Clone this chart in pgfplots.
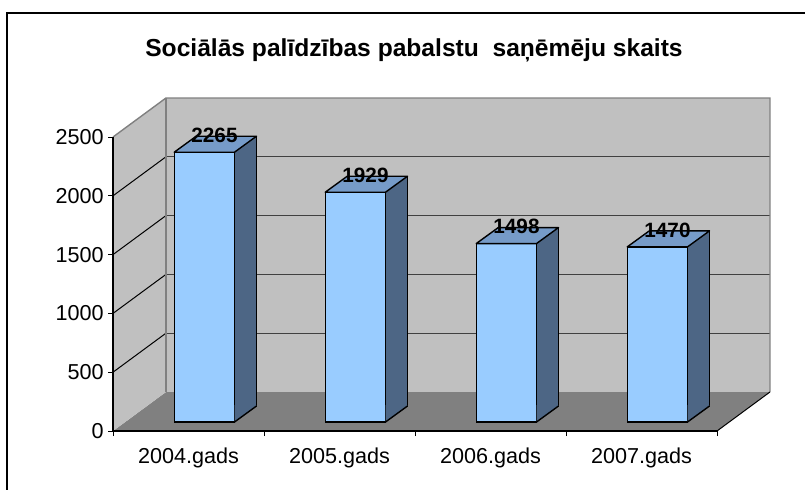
\documentclass[border=0pt]{standalone}
\usepackage{fontspec}
\setmainfont{Liberation Sans}
\usepackage{pgfplots}
\pgfplotsset{compat=1.18}
\usepackage{pgfplotstable}

\definecolor{barfront}{RGB}{153,204,255}
\definecolor{bartop}{RGB}{118,155,200}
\definecolor{barside}{RGB}{77,102,133}
\definecolor{wall}{RGB}{192,192,192}
\definecolor{floorc}{RGB}{128,128,128}
\definecolor{edgec}{RGB}{128,128,128}
\definecolor{gridc}{RGB}{64,64,64}

% top face of a 3-D column (fixed shape, placed at the front top centre)
\pgfdeclareplotmark{topface}{%
  \pgfpathmoveto{\pgfqpoint{-7.125pt}{0pt}}%
  \pgfpathlineto{\pgfqpoint{23pt}{0pt}}%
  \pgfpathlineto{\pgfqpoint{34pt}{8pt}}%
  \pgfpathlineto{\pgfqpoint{3.875pt}{8pt}}%
  \pgfpathclose
  \pgfusepathqfillstroke}
% lower triangle of the side face (placed at the column base)
\pgfdeclareplotmark{sidefoot}{%
  \pgfsetfillcolor{barside}%
  \pgfpathmoveto{\pgfqpoint{23pt}{0pt}}%
  \pgfpathlineto{\pgfqpoint{34pt}{8pt}}%
  \pgfpathlineto{\pgfqpoint{33.6pt}{8.45pt}}%
  \pgfpathlineto{\pgfqpoint{23pt}{8.45pt}}%
  \pgfpathclose
  \pgfusepathqfill
  \pgfpathmoveto{\pgfqpoint{23pt}{0pt}}%
  \pgfpathlineto{\pgfqpoint{34pt}{8pt}}%
  \pgfusepathqstroke}

\pgfplotstableread{
x v
0.5 2265
1.5 1929
2.5 1498
3.5 1470
}\datatable

\pgfplotstableread{
x base
0.5 0
1.5 0
2.5 0
3.5 0
}\basetable

\pgfplotsset{
  /pgf/number format/1000 sep={},
  /pgf/number format/assume math mode=true,
  chartbase/.style={
    anchor=south west,
    x=75.5pt,
    xmin=0, xmax=4.351,
    enlargelimits=false,
    clip=false,
  },
  barbase/.style={
    chartbase, hide axis,
    y=0.05955pt, ymin=0, ymax=2500,
  }
}

\begin{document}
\begin{tikzpicture}
\useasboundingbox (0pt,0pt) rectangle (402.5pt,-244.5pt);
\clip (0pt,0pt) rectangle (402.5pt,-244.5pt);
\draw[line width=1pt] (3.5pt,-6.3pt) rectangle (430pt,-260pt);
\node[font=\fontsize{12.3pt}{14pt}\selectfont\bfseries, anchor=base, inner sep=0pt] at (207pt,-28pt) {Sociālās palīdzības pabalstu\ \ saņēmēju skaits};
% ---------- walls, floor, ticks ----------
\begin{axis}[
  chartbase,
  at={(56.5pt,-215.5pt)},
  y=0.0588pt, ymin=0, ymax=2840,
  axis x line*=bottom, axis y line*=left,
  axis line style={draw=none},
  tick align=outside,
  major tick length=2.5pt, minor tick length=2.5pt,
  xtick={0.5,1.5,2.5,3.5},
  xticklabels={2004.gads,2005.gads,2006.gads,2007.gads},
  minor xtick={0,1,2,3,4},
  every major x tick/.append style={draw=none},
  ytick={0,500,1000,1500,2000,2500},
  tick style={black, line width=0.5pt},
  scaled y ticks=false,
  ticklabel style={font=\fontsize{10.8pt}{12pt}\selectfont},
  yticklabel style={inner sep=0pt, xshift=-2pt},
  xticklabel style={inner sep=0pt, yshift=-5.5pt},
]
\fill[floorc] (axis cs:0,0) -- (axis cs:4,0) -- (axis cs:4.351,332) -- (axis cs:0.351,332) -- cycle;
\fill[wall] (axis cs:0.351,332) rectangle (axis cs:4.351,2832);
\fill[wall] (axis cs:0,0) -- (axis cs:0.351,332) -- (axis cs:0.351,2832) -- (axis cs:0,2500) -- cycle;
\draw[black, line width=0.5pt] (axis cs:0,500) -- (axis cs:0.351,832);
\draw[black, line width=0.5pt] (axis cs:0,1000) -- (axis cs:0.351,1332);
\draw[black, line width=0.5pt] (axis cs:0,1500) -- (axis cs:0.351,1832);
\draw[black, line width=0.5pt] (axis cs:0,2000) -- (axis cs:0.351,2332);
\draw[gridc, line width=0.6pt] (axis cs:0.351,832) -- (axis cs:4.351,832);
\draw[gridc, line width=0.6pt] (axis cs:0.351,1332) -- (axis cs:4.351,1332);
\draw[gridc, line width=0.6pt] (axis cs:0.351,1832) -- (axis cs:4.351,1832);
\draw[gridc, line width=0.6pt] (axis cs:0.351,2332) -- (axis cs:4.351,2332);
\draw[edgec, line width=0.7pt] (axis cs:0,2500) -- (axis cs:0.351,2832) -- (axis cs:4.351,2832) -- (axis cs:4.351,332);
\draw[edgec, line width=0.7pt] (axis cs:0.351,332) -- (axis cs:0.351,2832);
\draw[black, line width=0.5pt] (axis cs:4,0) -- (axis cs:4.351,332);
\draw[black, line width=0.6pt] (axis cs:0,0) -- (axis cs:4,0);
\draw[black, line width=0.6pt] (axis cs:0,0) -- (axis cs:0,2500);
\end{axis}
% ---------- side faces of the columns (back plane, 16px higher) ----------
\begin{axis}[barbase, at={(56.5pt,-203pt)}]
\addplot[ybar, bar width=11pt, bar shift=28.5pt, fill=barside, draw=black, line width=0.7pt]
  table[x=x, y=v] {\datatable};
\end{axis}
% ---------- front and top faces, labels ----------
\begin{axis}[barbase, at={(56.5pt,-211pt)}]
\addplot[only marks, mark=sidefoot, mark options={draw=black, line width=0.7pt}]
  table[x=x, y=base] {\basetable};
\addplot[ybar, bar width=30.1pt, bar shift=7.94pt, fill=barfront, draw=black, line width=0.7pt]
  table[x=x, y=v] {\datatable};
\addplot[only marks, mark=topface,
  mark options={draw=black, fill=bartop, line width=0.7pt, line join=round},
  point meta=explicit,
  nodes near coords,
  every node near coord/.append style={font=\fontsize{10.35pt}{12pt}\selectfont\bfseries, anchor=center, inner sep=0pt, xshift=13pt, yshift=8.35pt, text=black},
] table[x=x, y=v, meta=v] {\datatable};
\end{axis}
\end{tikzpicture}
\end{document}
